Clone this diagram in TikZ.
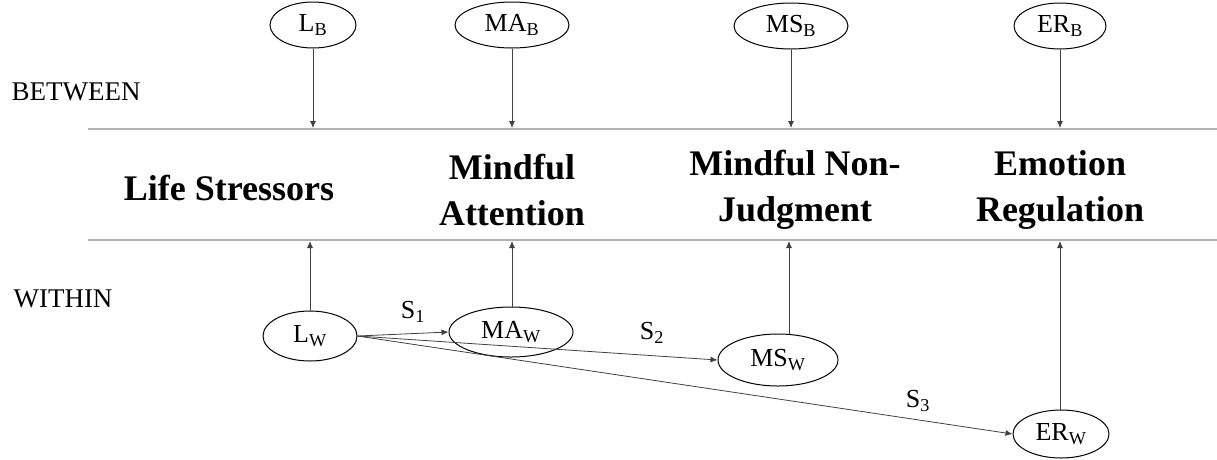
\documentclass[tikz,border=0pt]{standalone}
\usepackage{fontspec}
\setmainfont{Liberation Serif}
\usetikzlibrary{arrows.meta,shapes.geometric}
\begin{document}
\begin{tikzpicture}[x=1pt,y=-1pt,
  lat/.style={ellipse,draw=black,line width=1pt,inner sep=0pt,minimum height=46pt,font=\fontsize{26}{29}\selectfont},
  conn/.style={draw=black!75,line width=0.8pt,-{Latex[length=7pt,width=6pt]}},
  sep/.style={draw=black!30,line width=1.6pt},
  title/.style={font=\fontsize{36}{46}\selectfont\bfseries,align=center},
  side/.style={font=\fontsize{27}{30}\selectfont,anchor=west},
  lab/.style={font=\fontsize{26}{29}\selectfont}]
\useasboundingbox (0,0) rectangle (1217,459);
% separators
\coordinate (t0) at (88,129); \coordinate (t1) at (1217,129);
\coordinate (b0) at (88,240); \coordinate (b1) at (1217,240);
\draw[sep] (t0) -- (t1);
\draw[sep] (b0) -- (b1);
\node[side] (between) at (8,92) {BETWEEN};
\node[side] (within) at (10,299) {WITHIN};
% between latent nodes
\node[lat,minimum width=86pt] (LB) at (313,25) {L\textsubscript{B}};
\node[lat,minimum width=114pt] (MAB) at (512,25) {MA\textsubscript{B}};
\node[lat,minimum width=114pt] (MSB) at (791,26) {MS\textsubscript{B}};
\node[lat,minimum width=92pt] (ERB) at (1060,26) {ER\textsubscript{B}};
\coordinate (LBt) at (313,128);
\coordinate (MABt) at (512,128);
\coordinate (MSBt) at (791,128);
\coordinate (ERBt) at (1060,128);
\draw[conn] (LB) -- (LBt);
\draw[conn] (MAB) -- (MABt);
\draw[conn] (MSB) -- (MSBt);
\draw[conn] (ERB) -- (ERBt);
% titles
\node[title] (ls) at (229,188) {Life Stressors};
\node[title] (ma) at (512,190) {Mindful\\Attention};
\node[title] (mnj) at (795,190) {Mindful Non-\\Judgment};
\node[title] (er) at (1060,190) {Emotion\\Regulation};
% within latent nodes
\node[lat,minimum width=94pt,minimum height=50pt] (LW) at (310,336) {L\textsubscript{W}};
\node[lat,minimum width=124pt,minimum height=50pt] (MAW) at (511,332) {MA\textsubscript{W}};
\node[lat,minimum width=120pt,minimum height=52pt] (MSW) at (778,360) {MS\textsubscript{W}};
\node[lat,minimum width=96pt,minimum height=48pt] (ERW) at (1061,434) {ER\textsubscript{W}};
\coordinate (LWt) at (310,241);
\coordinate (MAWt) at (512,241);
\coordinate (MSWt) at (789,241);
\coordinate (ERWt) at (1060,241);
\draw[conn] (LW.north) -- (LWt);
\draw[conn] (MAW.north -| MAWt) -- (MAWt);
\draw[conn] (MSW.north -| MSWt) -- (MSWt);
\draw[conn] (ERW.north -| ERWt) -- (ERWt);
% paths
\draw[conn] (LW.east) -- (MAW.west);
\draw[conn] (LW.east) -- (MSW.west);
\draw[conn] (LW.east) -- (ERW.west);
\node[lab] (s1) at (413,312) {S\textsubscript{1}};
\node[lab] (s2) at (652,333) {S\textsubscript{2}};
\node[lab] (s3) at (918,401) {S\textsubscript{3}};
\end{tikzpicture}
\end{document}
